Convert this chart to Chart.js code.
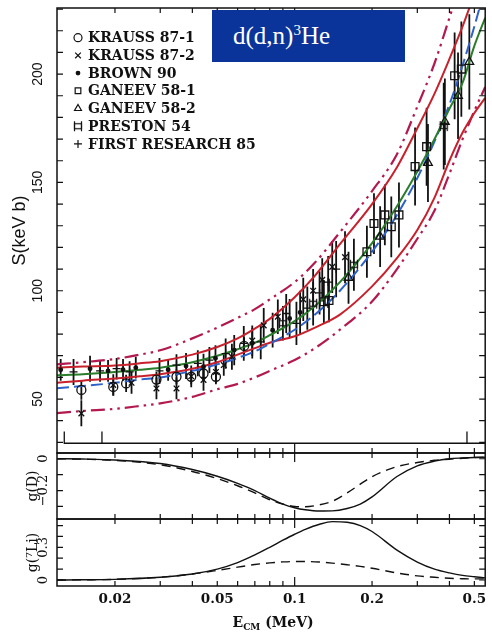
<!DOCTYPE html>
<html>
<head>
<meta charset="utf-8">
<script src="https://cdn.jsdelivr.net/npm/chart.js@4.4.1/dist/chart.umd.min.js"></script>
<style>
  html, body { margin: 0; padding: 0; background: #fff; }
  #wrap { position: relative; width: 492px; height: 632px; }
  #sfactor { position: absolute; left: 0; top: 0; }
  #reaction {
    position: absolute; left: 212px; top: 10px; width: 193px; height: 52px;
    box-sizing: border-box; padding-left: 21px;
    background: #0b349b; color: #fff;
    font-family: "Liberation Serif", serif; font-size: 25px; line-height: 52px;
  }
  #reaction sup { font-size: 15px; vertical-align: 9px; line-height: 0; }
</style>
</head>
<body>
<div id="wrap">
  <canvas id="sfactor" width="492" height="632"></canvas>
  <div id="reaction">d(d,n)<sup>3</sup>He</div>
</div>
<script>
const ctx_s = document.querySelector('#sfactor').getContext('2d');

// ---- measured S-factor (keV b) vs E_cm (MeV), with errors ----
const seriesNames = ['KRAUSS 87-1', 'KRAUSS 87-2', 'BROWN 90', 'GANEEV 58-1', 'GANEEV 58-2', 'PRESTON 54', 'FIRST RESEARCH 85'];

const krauss1E = [0.0148, 0.0197, 0.0221, 0.0290, 0.0347, 0.0396, 0.0442, 0.0494, 0.0636];
const krauss1S = [54.2, 55.6, 57.2, 59.0, 60.3, 60.3, 61.8, 60.3, 74.5];
const krauss1Err = [4.5, 4.0, 4.0, 3.5, 3.5, 3.5, 3.5, 3.5, 4.0];

const krauss2E = [0.0148, 0.0197, 0.0232, 0.0290, 0.0347, 0.0396, 0.0442, 0.0494, 0.0530, 0.0570, 0.0684, 0.0758, 0.0860, 0.1080, 0.1180, 0.1280, 0.1400, 0.1570];
const krauss2S = [43.4, 56.5, 57.5, 54.9, 54.9, 60.5, 58.8, 62.5, 65.7, 69.5, 77.0, 84.0, 88.0, 96.0, 100.0, 105.0, 111.0, 115.5];
const krauss2Err = [6, 5, 5, 5, 5, 5, 5, 5, 5, 6, 7, 8, 8, 10, 10, 10, 12, 12];

const brownE = [0.0123, 0.0160, 0.0188, 0.0215, 0.0241, 0.0322, 0.0378, 0.0442, 0.0492, 0.0582, 0.0684, 0.0821, 0.0956, 0.1050];
const brownS = [63.5, 64.0, 63.0, 63.5, 64.5, 63.5, 65.2, 64.9, 68.8, 72.6, 75.7, 81.8, 87.2, 90.0];
const brownErr = [5, 6, 5, 5, 5, 5, 6, 6, 6, 7, 7, 8, 9, 10];

const ganeev1E = [0.1299, 0.1360, 0.1910, 0.2035, 0.2243, 0.2376, 0.2545, 0.2940, 0.3260, 0.4190, 0.4450];
const ganeev1S = [94.9, 95.5, 118.0, 131.0, 135.0, 129.5, 135.0, 157.3, 166.5, 199.2, 202.3];
const ganeev1Err = [10, 10, 12, 14, 14, 14, 15, 18, 18, 20, 22];

const ganeev2E = [0.1620, 0.2150, 0.3300, 0.3840, 0.4320, 0.4780];
const ganeev2S = [106.0, 125.0, 159.0, 178.0, 190.0, 205.6];
const ganeev2Err = [12, 14, 18, 20, 20, 22];

const prestonE = [0.0900, 0.1180, 0.1700, 0.3800];
const prestonS = [85.0, 94.0, 112.0, 176.0];
const prestonErr = [8, 10, 12, 20];

const firstE = [0.0138, 0.0175, 0.0203, 0.0228, 0.0298, 0.0347, 0.0420, 0.0466, 0.0539, 0.0634, 0.0738, 0.0927, 0.1016, 0.1120, 0.1250, 0.1350, 0.1450];
const firstS = [62.5, 63.0, 64.0, 62.5, 63.0, 65.7, 66.5, 68.0, 71.0, 75.7, 76.4, 89.5, 84.9, 92.0, 99.0, 104.0, 110.0];
const firstErr = [6, 5, 5, 5, 6, 5, 6, 6, 7, 8, 8, 9, 10, 10, 10, 12, 13];

// ---- model curves ----
const curveE = [0.0119, 0.015, 0.02, 0.025, 0.03, 0.04, 0.05, 0.06, 0.07, 0.08, 0.1, 0.12, 0.15, 0.2, 0.25, 0.3, 0.35, 0.4, 0.45, 0.5, 0.551];
const fitBest  = [61, 61.5, 62.5, 63.5, 64.5, 67, 70, 73, 76, 79.5, 86, 93, 104, 122, 139, 155, 170, 184, 196, 213, 226];
const fitAlt   = [55, 56, 57.5, 59, 60, 63, 66, 69, 72, 75.5, 82, 89, 100, 118, 135, 152, 169, 186, 204, 222, 240];
const bandUp   = [64.5, 65, 65.5, 66.5, 67.5, 70.5, 74, 78, 82.5, 87, 97, 107, 121.5, 140, 157, 175, 191, 207, 222, 237, 251];
const bandLow  = [57.5, 58.5, 59.5, 60.5, 61.5, 64, 67, 70.5, 73.5, 76, 79, 83, 89, 102, 115, 128, 143, 160, 173, 182, 189];
const wideUp   = [66, 67, 68.5, 70.5, 72.5, 78, 83, 87.5, 91.5, 96, 104, 113, 127, 146, 163, 185, 205, 226, 245, 262, 280];
const wideLow  = [43.5, 44.5, 45.5, 46.8, 48, 51, 54.5, 57, 60, 63, 68, 73.5, 82, 95, 110, 124, 137, 154, 170, 183, 194];

// ---- g(D) and g(7Li) ----
const gE = [0.0119, 0.015, 0.02, 0.03, 0.04, 0.05, 0.06, 0.07, 0.08, 0.09, 0.1, 0.11, 0.125, 0.14, 0.16, 0.18, 0.2, 0.25, 0.3, 0.35, 0.4, 0.45, 0.5, 0.551];
const gDSolid  = [0, -0.002, -0.008, -0.03, -0.068, -0.11, -0.155, -0.2, -0.248, -0.285, -0.308, -0.321, -0.329, -0.328, -0.313, -0.285, -0.24, -0.112, -0.045, -0.015, 0, 0.005, 0.008, 0.009];
const gDDashed = [0, -0.003, -0.01, -0.038, -0.08, -0.125, -0.17, -0.215, -0.258, -0.285, -0.3, -0.302, -0.29, -0.268, -0.215, -0.16, -0.113, -0.05, -0.024, -0.01, -0.003, 0.003, 0.008, 0.01];
const gLiSolid  = [0, 0.002, 0.006, 0.025, 0.055, 0.1, 0.16, 0.23, 0.3, 0.365, 0.42, 0.465, 0.512, 0.536, 0.53, 0.5, 0.445, 0.275, 0.165, 0.1, 0.065, 0.042, 0.03, 0.02];
const gLiDashed = [0, 0.002, 0.006, 0.025, 0.055, 0.088, 0.118, 0.142, 0.157, 0.166, 0.17, 0.17, 0.165, 0.155, 0.14, 0.125, 0.108, 0.065, 0.038, 0.025, 0.016, 0.012, 0.01, 0.01];

// energy-range bracket along the bottom of the S panel
const rangeMarkE = [0.0127, 0.0178, 0.468];
const rangeBase = 29.6;
const rangeTop = 35.0;

// ---- axes ----
const eMin = 0.0119, eMax = 0.551;
const xTickLabels = [0.02, 0.05, 0.1, 0.2, 0.5];
const xTickMarks = [0.02, 0.03, 0.04, 0.05, 0.06, 0.07, 0.08, 0.09, 0.1, 0.2, 0.3, 0.4, 0.5];
const sTickLabels = [50, 100, 150, 200];
const sTickMarks = [30, 40, 50, 60, 70, 80, 90, 100, 110, 120, 130, 140, 150, 160, 170, 180, 190, 200, 210, 220, 230];
const gDTickLabels = [0, -0.2];
const gDTickMarks = [0, -0.1, -0.2, -0.3];
const gLiTickLabels = [0, 0.3];
const gLiTickMarks = [0, 0.1, 0.2, 0.3, 0.4, 0.5];

const pts = (xs, ys) => xs.map((x, i) => ({x: x, y: ys[i]}));

// PRESTON 54 symbol: a box with little legs at the corners
const prestonMark = document.createElement('canvas');
prestonMark.width = 12; prestonMark.height = 12;
(function () {
    const c = prestonMark.getContext('2d');
    c.strokeStyle = '#111'; c.lineWidth = 1.2;
    c.strokeRect(2.5, 3.5, 7, 5);
    c.beginPath();
    c.moveTo(2.5, 1); c.lineTo(2.5, 11);
    c.moveTo(9.5, 1); c.lineTo(9.5, 11);
    c.stroke();
})();

const markStyles = [
    {pointStyle: 'circle', pointRadius: 4.5, pointBackgroundColor: 'rgba(0,0,0,0)'},
    {pointStyle: 'crossRot', pointRadius: 4, pointBackgroundColor: 'rgba(0,0,0,0)'},
    {pointStyle: 'circle', pointRadius: 1.8, pointBackgroundColor: '#111'},
    {pointStyle: 'rect', pointRadius: 5.5, pointBackgroundColor: 'rgba(0,0,0,0)'},
    {pointStyle: 'triangle', pointRadius: 5, pointBackgroundColor: 'rgba(0,0,0,0)'},
    {pointStyle: prestonMark, pointRadius: 5, pointBackgroundColor: 'rgba(0,0,0,0)'},
    {pointStyle: 'cross', pointRadius: 4, pointBackgroundColor: 'rgba(0,0,0,0)'},
];
const measured = [
    [krauss1E, krauss1S, krauss1Err],
    [krauss2E, krauss2S, krauss2Err],
    [brownE, brownS, brownErr],
    [ganeev1E, ganeev1S, ganeev1Err],
    [ganeev2E, ganeev2S, ganeev2Err],
    [prestonE, prestonS, prestonErr],
    [firstE, firstS, firstErr],
];

let datasets = [];
measured.forEach((m, i) => {
    datasets.push(Object.assign({
        label: seriesNames[i],
        data: pts(m[0], m[1]),
        errors: m[2],
        yAxisID: 'yS',
        showLine: false,
        pointBorderColor: '#111',
        pointBorderWidth: 1.3,
    }, markStyles[i]));
});

function curve(label, ys, color, dash, width) {
    return {
        label: label, data: pts(curveE, ys), yAxisID: 'yS', showLine: true,
        borderColor: color, borderWidth: width, borderDash: dash,
        pointRadius: 0, cubicInterpolationMode: 'monotone', fill: false,
    };
}
datasets.push(curve('fit', fitBest, '#2a7d2a', [], 2));
datasets.push(curve('alt fit', fitAlt, '#2f62c9', [12, 5], 2));
datasets.push(curve('band up', bandUp, '#c8202c', [], 2));
datasets.push(curve('band low', bandLow, '#c8202c', [], 2));
datasets.push(curve('wide up', wideUp, '#b3194f', [14, 5, 2.5, 5, 2.5, 5], 2.2));
datasets.push(curve('wide low', wideLow, '#b3194f', [14, 5, 2.5, 5, 2.5, 5], 2.2));

function gcurve(label, ys, axis, dash) {
    return {
        label: label, data: pts(gE, ys), yAxisID: axis, showLine: true,
        borderColor: '#111', borderWidth: 1.4, borderDash: dash,
        pointRadius: 0, cubicInterpolationMode: 'monotone', fill: false,
    };
}
datasets.push(gcurve('g(D)', gDSolid, 'yD', []));
datasets.push(gcurve('g(D) alt', gDDashed, 'yD', [9, 6]));
datasets.push(gcurve('g(7Li)', gLiSolid, 'yLi', []));
datasets.push(gcurve('g(7Li) alt', gLiDashed, 'yLi', [9, 6]));

// bracket: ticks at each range mark joined along the base
let bracket = [];
rangeMarkE.forEach(e => {
    bracket.push({x: e, y: rangeBase}, {x: e, y: rangeTop}, {x: e, y: rangeBase});
});
bracket.push({x: eMax, y: rangeBase});
datasets.push({
    label: 'range', data: bracket, yAxisID: 'yS', showLine: true,
    borderColor: '#111', borderWidth: 1.3, pointRadius: 0, tension: 0,
});

const serif = '"DejaVu Serif", serif';
const sans = '"Liberation Sans", Arial, sans-serif';

function fmtTick(v) {
    return v < 0 ? '\u2212' + Math.abs(v) : String(v);
}

const panelFrames = {
    id: 'panelFrames',
    beforeDatasetsDraw(chart) {
        // error bars sit under the symbols and curves
        const {ctx, scales} = chart;
        const x = scales.x, y = scales.yS;
        ctx.save();
        ctx.beginPath();
        ctx.rect(x.left, y.top, x.width, y.height);
        ctx.clip();
        ctx.strokeStyle = '#111';
        ctx.lineWidth = 1.8;
        chart.data.datasets.forEach(ds => {
            if (!ds.errors) return;
            ds.data.forEach((p, j) => {
                const px = x.getPixelForValue(p.x);
                ctx.beginPath();
                ctx.moveTo(px, y.getPixelForValue(p.y - ds.errors[j]));
                ctx.lineTo(px, y.getPixelForValue(p.y + ds.errors[j]));
                ctx.stroke();
            });
        });
        ctx.restore();
    },
    afterDraw(chart) {
        const {ctx, scales} = chart;
        const x = scales.x;
        const L = x.left, R = x.right;
        const panels = [
            {s: scales.yS, marks: sTickMarks, labels: sTickLabels, lx: 38, font: '14px ' + sans},
            {s: scales.yD, marks: gDTickMarks, labels: gDTickLabels, lx: 44, font: '13px ' + serif},
            {s: scales.yLi, marks: gLiTickMarks, labels: gLiTickLabels, lx: 44, font: '13px ' + serif},
        ];
        ctx.save();
        ctx.strokeStyle = '#111';
        ctx.fillStyle = '#111';
        panels.forEach(p => {
            const s = p.s;
            ctx.lineWidth = 1.5;
            ctx.strokeRect(L, s.top, R - L, s.bottom - s.top);
            ctx.lineWidth = 1.2;
            ctx.beginPath();
            p.marks.forEach(v => {
                const py = s.getPixelForValue(v);
                ctx.moveTo(L, py); ctx.lineTo(L + 6, py);
                ctx.moveTo(R, py); ctx.lineTo(R - 6, py);
            });
            xTickMarks.forEach(v => {
                const px = x.getPixelForValue(v);
                const len = v === 0.1 ? 9 : 5;
                ctx.moveTo(px, s.top); ctx.lineTo(px, s.top + len);
                ctx.moveTo(px, s.bottom); ctx.lineTo(px, s.bottom - len);
            });
            ctx.stroke();
            // rotated tick labels
            ctx.font = p.font;
            ctx.textAlign = 'center';
            ctx.textBaseline = 'middle';
            p.labels.forEach(v => {
                ctx.save();
                ctx.translate(p.lx, s.getPixelForValue(v));
                ctx.rotate(-Math.PI / 2);
                ctx.fillText(fmtTick(v), 0, 0);
                ctx.restore();
            });
        });

        // E_CM (MeV) with subscript
        const big = 'bold 14px ' + serif, small = 'bold 9px ' + serif;
        ctx.font = big; const wE = ctx.measureText('E').width; const wRest = ctx.measureText(' (MeV)').width;
        ctx.font = small; const wCM = ctx.measureText('CM').width;
        let tx = (L + R) / 2 + 2 - (wE + wCM + wRest) / 2;
        const base = 627;
        ctx.textAlign = 'left';
        ctx.textBaseline = 'alphabetic';
        ctx.font = big; ctx.fillText('E', tx, base); tx += wE;
        ctx.font = small; ctx.fillText('CM', tx, base + 3); tx += wCM;
        ctx.font = big; ctx.fillText(' (MeV)', tx, base);

        // legend
        ctx.font = 'bold 14px ' + serif;
        ctx.textBaseline = 'middle';
        seriesNames.forEach((name, i) => {
            const ds = chart.data.datasets[i];
            const ly = 37.7 + i * 17.7;
            ctx.fillStyle = ds.pointBackgroundColor;
            ctx.strokeStyle = '#111';
            ctx.lineWidth = 1.2;
            Chart.helpers.drawPoint(ctx, {
                pointStyle: ds.pointStyle, radius: Math.min(ds.pointRadius, 4), rotation: 0, borderWidth: 1.2,
            }, L + 21, ly);
            ctx.fillStyle = '#111';
            ctx.fillText(name, L + 31, ly + 1);
        });
        ctx.restore();
    },
};

const yCommon = {
    type: 'linear', position: 'left', stack: 'panels',
    grid: {display: false}, border: {display: false},
    ticks: {display: false},
    afterFit: (s) => { s.width = 57; },
};

const config_s = {
    type: 'scatter',
    data: {datasets: datasets},
    options: {
        responsive: false,
        animation: false,
        layout: {padding: {top: 8, right: 5, bottom: 0, left: 0}},
        plugins: {legend: {display: false}, tooltip: {enabled: false}, title: {display: false}},
        scales: {
            x: {
                type: 'logarithmic', min: eMin, max: eMax, position: 'bottom',
                grid: {display: false, drawTicks: false}, border: {display: false},
                afterBuildTicks: (s) => { s.ticks = xTickLabels.map(v => ({value: v})); },
                afterFit: (s) => { s.height = 46; },
                ticks: {
                    autoSkip: false, maxRotation: 0, padding: 5, color: '#111',
                    font: {family: serif, size: 13.5, weight: 'bold'},
                    callback: (v) => String(v),
                },
            },
            yLi: Object.assign({}, yCommon, {
                min: -0.055, max: 0.56, stackWeight: 67,
                title: {display: true, text: 'g(\u2077Li)', color: '#111', font: {family: serif, size: 14}, padding: {top: 24.6, bottom: 0}},
            }),
            yD: Object.assign({}, yCommon, {
                min: -0.379, max: 0.036, stackWeight: 66,
                title: {display: true, text: 'g(D)', color: '#111', font: {family: serif, size: 14}, padding: {top: 24.6, bottom: 0}},
            }),
            yS: Object.assign({}, yCommon, {
                min: 25.1, max: 230.5, stackWeight: 445,
                title: {display: true, text: 'S(keV b)', color: '#111', font: {family: sans, size: 18}, padding: {top: 9.2, bottom: 0}},
            }),
        },
    },
    plugins: [panelFrames],
};

new Chart(ctx_s, config_s);
</script>
</body>
</html>
